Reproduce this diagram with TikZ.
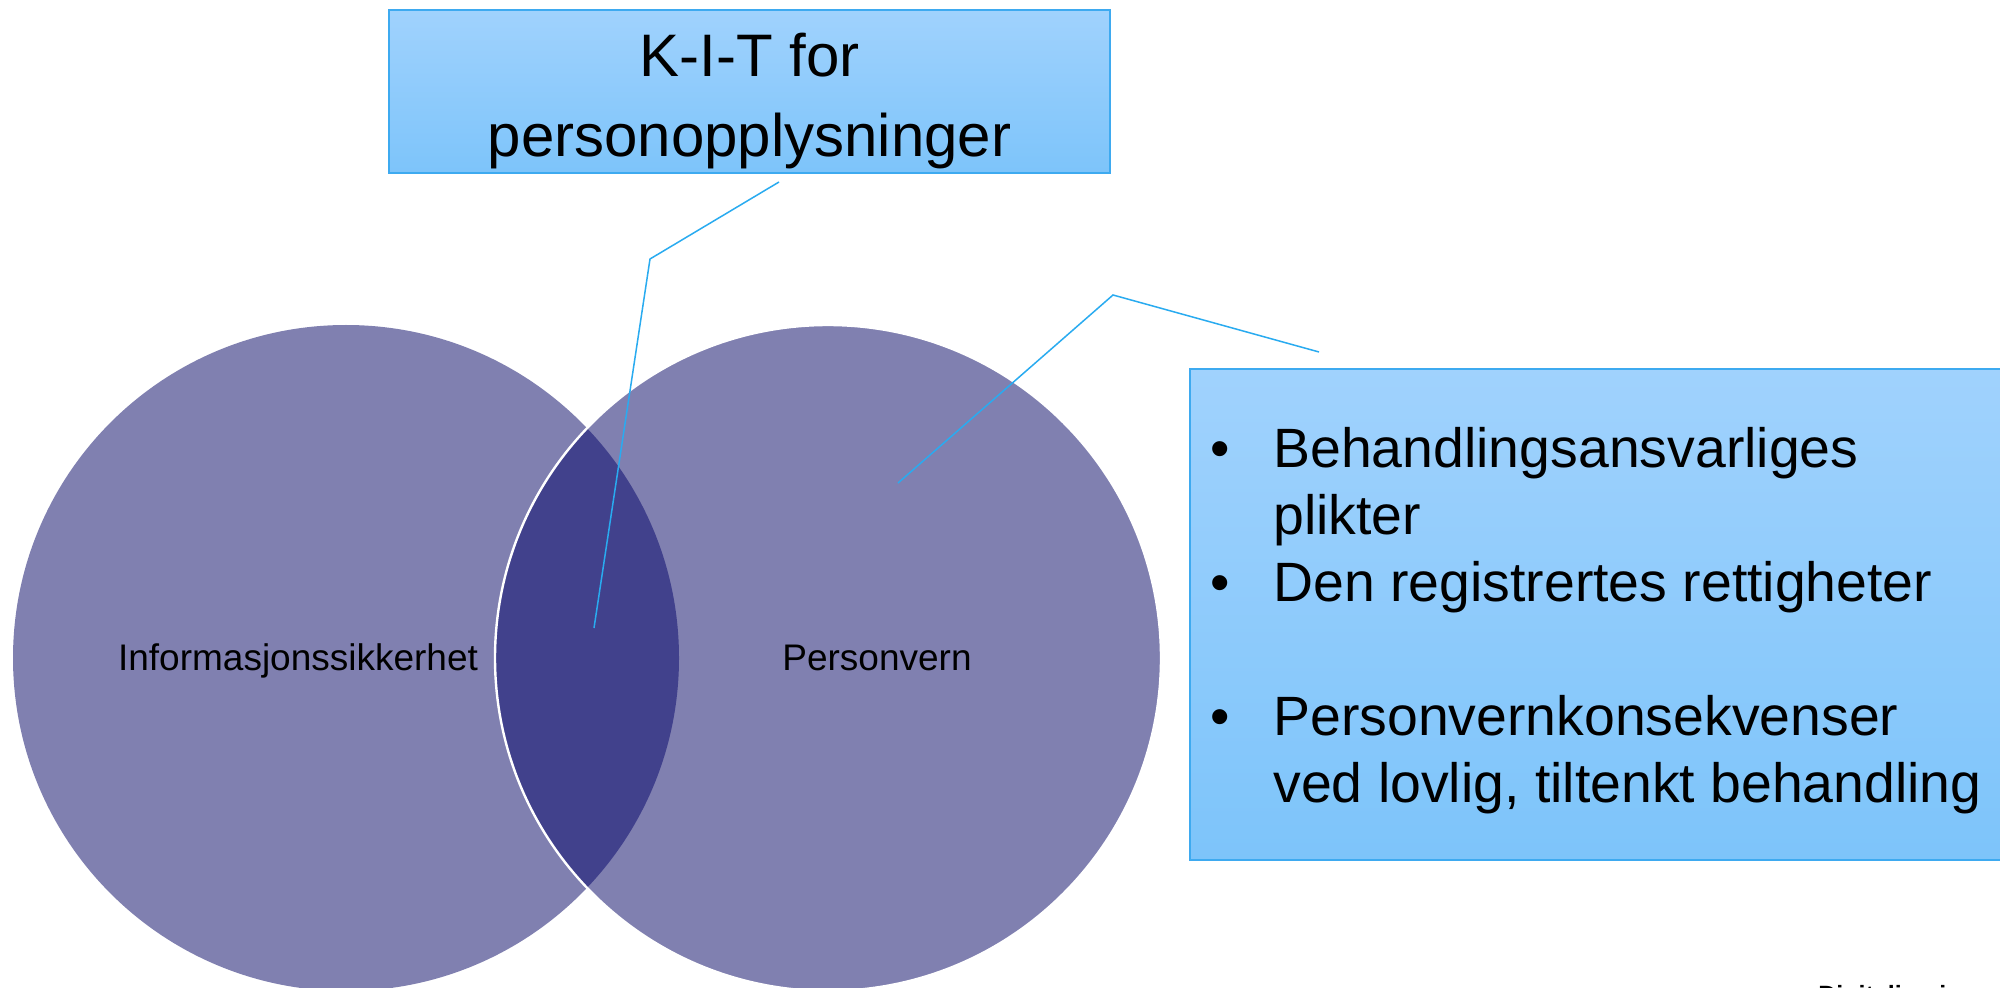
\documentclass[tikz,border=0pt]{standalone}
\usepackage{fontspec}
\setmainfont{Liberation Sans}
\definecolor{circ}{RGB}{128,128,176}
\definecolor{lensc}{RGB}{65,65,140}
\definecolor{boxtop}{RGB}{160,210,253}
\definecolor{boxbot}{RGB}{125,196,250}
\definecolor{boxline}{RGB}{62,170,240}
\definecolor{callout}{RGB}{41,171,240}
\begin{document}
\begin{tikzpicture}[x=0.5pt,y=-0.5pt,
  bluebox/.style={draw=boxline, line width=0.75pt, top color=boxtop, bottom color=boxbot, inner sep=0pt},
  calloutline/.style={draw=callout, line width=0.75pt},
  venn/.style={circle, fill=circ, minimum size=333pt, inner sep=0pt},
  biglabel/.style={inner sep=0pt, anchor=base, font=\fontsize{30}{36}\selectfont},
  listtext/.style={inner sep=0pt, anchor=base west, font=\fontsize{27.7}{33}\selectfont},
  bulletmark/.style={inner sep=0pt, anchor=base, font=\fontsize{27.7}{33}\selectfont},
  circlabel/.style={inner sep=0pt, anchor=base, font=\fontsize{18.5}{22}\selectfont}]
\useasboundingbox (0,0) rectangle (2000,988);
\fill[white] (0,0) rectangle (2000,988);
% Venn circles
\node[venn] (infosec) at (346,658) {};
\node[venn] (pvern) at (828,658) {};
\begin{scope}
  \clip (346,658) circle[radius=166.5pt];
  \fill[lensc] (828,658) circle[radius=166.5pt];
\end{scope}
\draw[white, line width=1.2pt] (828,658) circle[radius=166.5pt];
\node[circlabel] (infolabel) at (298,670) {Informasjonssikkerhet};
\node[circlabel] (pvlabel) at (877,670) {Personvern};
% top box
\node[bluebox, minimum width=360.5pt, minimum height=81.5pt] (kit) at (749.5,91.5) {};
\node[biglabel] (kitl1) at (749.5,77) {K-I-T for};
\node[biglabel] (kitl2) at (749.5,157) {personopplysninger};
% right box
\node[bluebox, minimum width=410pt, minimum height=245.5pt] (list) at (1600,614.5) {};
\node[bulletmark] (b1) at (1220,467) {•};
\node[listtext] (t1) at (1273,467) {Behandlingsansvarliges};
\node[listtext] (t1b) at (1273,534) {plikter};
\node[bulletmark] (b2) at (1220,601) {•};
\node[listtext] (t2) at (1273,601) {Den registrertes rettigheter};
\node[bulletmark] (b3) at (1220,735) {•};
\node[listtext] (t3) at (1273,735) {Personvernkonsekvenser};
\node[listtext] (t3b) at (1273,802) {ved lovlig, tiltenkt behandling};
% callouts
\coordinate (c1a) at (779,182);
\coordinate (c1b) at (650,259);
\coordinate (c1c) at (594,628);
\draw[calloutline] (c1a) -- (c1b) -- (c1c);
\coordinate (c2a) at (1319,352);
\coordinate (c2b) at (1113,295);
\coordinate (c2c) at (898,483);
\draw[calloutline] (c2a) -- (c2b) -- (c2c);
% footer (cut off at the lower edge, as in the reference)
\node[inner sep=0pt, anchor=base west, font=\bfseries\fontsize{12.5}{15}\selectfont] (footer) at (1818,1003) {Digitaliseringsdirektoratet};
\end{tikzpicture}
\end{document}
